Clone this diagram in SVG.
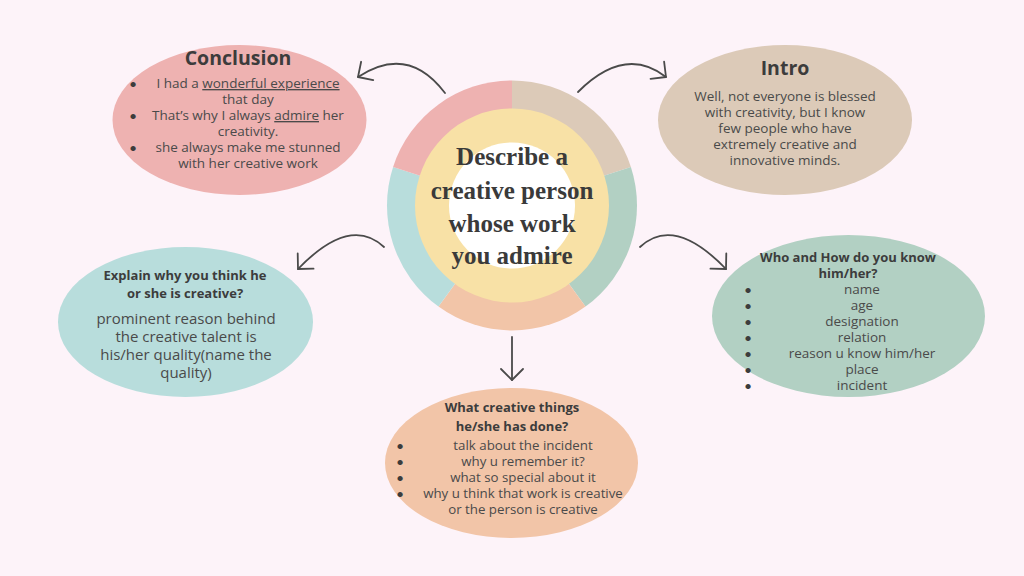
<svg xmlns="http://www.w3.org/2000/svg" width="1024" height="576" viewBox="0 0 1024 576">
<defs>
<style>
.t{font-family:"Open Sans","Liberation Sans",sans-serif;fill:#4a4a4a;text-anchor:middle}
.h{font-family:"Open Sans","Liberation Sans",sans-serif;fill:#3c3c3c;font-weight:700;text-anchor:middle}
.b{font-family:Lato,"Liberation Sans",sans-serif;fill:#3c3c3c;font-size:14px;text-anchor:middle}
.c{font-family:"Liberation Serif",serif;fill:#3a3a3a;font-weight:700;font-size:25px;text-anchor:middle}
.arr{fill:none;stroke:#4a4a4a;stroke-width:1.8;stroke-linecap:round;marker-end:url(#ah)}
</style>
<marker id="ah" markerUnits="userSpaceOnUse" markerWidth="30" markerHeight="30" refX="0" refY="0" viewBox="-15 -15 30 30" orient="auto">
<path d="M-11,-11 L0,0 L-11,11" fill="none" stroke="#4a4a4a" stroke-width="1.8" stroke-linecap="round" stroke-linejoin="round"/>
</marker>
</defs>
<rect width="1024" height="576" fill="#fdf3f9"/>

<g id="center">
<path d="M512,205.5 L512,80.5 A125,125 0 0 1 630.9,166.9 Z" fill="#dccab8"/>
<path d="M512,205.5 L630.9,166.9 A125,125 0 0 1 585.5,306.6 Z" fill="#b2d0c3"/>
<path d="M512,205.5 L585.5,306.6 A125,125 0 0 1 438.5,306.6 Z" fill="#f2c5a8"/>
<path d="M512,205.5 L438.5,306.6 A125,125 0 0 1 393.1,166.9 Z" fill="#b8dddc"/>
<path d="M512,205.5 L393.1,166.9 A125,125 0 0 1 512,80.5 Z" fill="#eeb2b1"/>
<circle cx="512" cy="205.5" r="97" fill="#f8e1a6"/>
<circle cx="512" cy="205.5" r="63" fill="#ffffff"/>
<text class="c" x="512" y="165">Describe a</text>
<text class="c" x="512" y="199">creative person</text>
<text class="c" x="512" y="232">whose work</text>
<text class="c" x="512" y="264">you admire</text>
</g>

<g id="conclusion">
<ellipse cx="239.5" cy="120" rx="127" ry="75" fill="#eeb2b1"/>
<text class="h" x="238" y="65" font-size="19.5">Conclusion</text>
<text class="b" x="133" y="89">•</text>
<text class="b" x="133" y="121">•</text>
<text class="b" x="133" y="153">•</text>
<text class="t" font-size="13.5" x="248" y="88">I had a <tspan text-decoration="underline">wonderful experience</tspan></text>
<text class="t" font-size="13.5" x="248" y="104">that day</text>
<text class="t" font-size="13.5" x="248" y="120">That’s why I always <tspan text-decoration="underline">admire</tspan> her</text>
<text class="t" font-size="13.5" x="248" y="136">creativity.</text>
<text class="t" font-size="13.5" x="248" y="152">she always make me stunned</text>
<text class="t" font-size="13.5" x="248" y="168">with her creative work</text>
</g>

<g id="intro">
<ellipse cx="785" cy="120" rx="127" ry="75" fill="#dccab8"/>
<text class="h" x="785" y="75" font-size="19.5">Intro</text>
<text class="t" font-size="13.5" x="785" y="101">Well, not everyone is blessed</text>
<text class="t" font-size="13.5" x="785" y="117">with creativity, but I know</text>
<text class="t" font-size="13.5" x="785" y="133">few people who have</text>
<text class="t" font-size="13.5" x="785" y="149">extremely creative and</text>
<text class="t" font-size="13.5" x="785" y="165">innovative minds.</text>
</g>

<g id="explain">
<ellipse cx="185.5" cy="322" rx="127.5" ry="75" fill="#b8dddc"/>
<text class="h" x="185" y="280" font-size="13">Explain why you think he</text>
<text class="h" x="185" y="298" font-size="13">or she is creative?</text>
<text class="t" font-size="15" x="186" y="324">prominent reason behind</text>
<text class="t" font-size="15" x="186" y="342">the creative talent is</text>
<text class="t" font-size="15" x="186" y="360">his/her quality(name the</text>
<text class="t" font-size="15" x="186" y="378">quality)</text>
</g>

<g id="who">
<ellipse cx="848.5" cy="316" rx="136.5" ry="81" fill="#b2d0c3"/>
<text class="h" x="848" y="262" font-size="13">Who and How do you know</text>
<text class="h" x="848" y="278" font-size="13">him/her?</text>
<text class="b" x="748" y="295">•</text>
<text class="b" x="748" y="311">•</text>
<text class="b" x="748" y="327">•</text>
<text class="b" x="748" y="343">•</text>
<text class="b" x="748" y="359">•</text>
<text class="b" x="748" y="375">•</text>
<text class="b" x="748" y="391">•</text>
<text class="t" font-size="13.5" x="862" y="294">name</text>
<text class="t" font-size="13.5" x="862" y="310">age</text>
<text class="t" font-size="13.5" x="862" y="326">designation</text>
<text class="t" font-size="13.5" x="862" y="342">relation</text>
<text class="t" font-size="13.5" x="862" y="358">reason u know him/her</text>
<text class="t" font-size="13.5" x="862" y="374">place</text>
<text class="t" font-size="13.5" x="862" y="390">incident</text>
</g>

<g id="things">
<ellipse cx="511.5" cy="463" rx="126.5" ry="75" fill="#f2c5a8"/>
<text class="h" x="512" y="412" font-size="13">What creative things</text>
<text class="h" x="512" y="431" font-size="13">he/she has done?</text>
<text class="b" x="400" y="451">•</text>
<text class="b" x="400" y="467">•</text>
<text class="b" x="400" y="483">•</text>
<text class="b" x="400" y="499">•</text>
<text class="t" font-size="13.3" x="523" y="450">talk about the incident</text>
<text class="t" font-size="13.3" x="523" y="466">why u remember it?</text>
<text class="t" font-size="13.3" x="523" y="482">what so special about it</text>
<text class="t" font-size="13.3" x="523" y="498">why u think that work is creative</text>
<text class="t" font-size="13.3" x="523" y="514">or the person is creative</text>
</g>

<g id="connectors">
<path class="arr" d="M445,93 Q408,44 358,77"/>
<path class="arr" d="M578,92 Q625,45 666,77"/>
<path class="arr" d="M384,247 Q350,215 298,269"/>
<path class="arr" d="M640,247 Q674,215 726,269"/>
<path class="arr" d="M512,337 L512,380"/>
</g>
</svg>
